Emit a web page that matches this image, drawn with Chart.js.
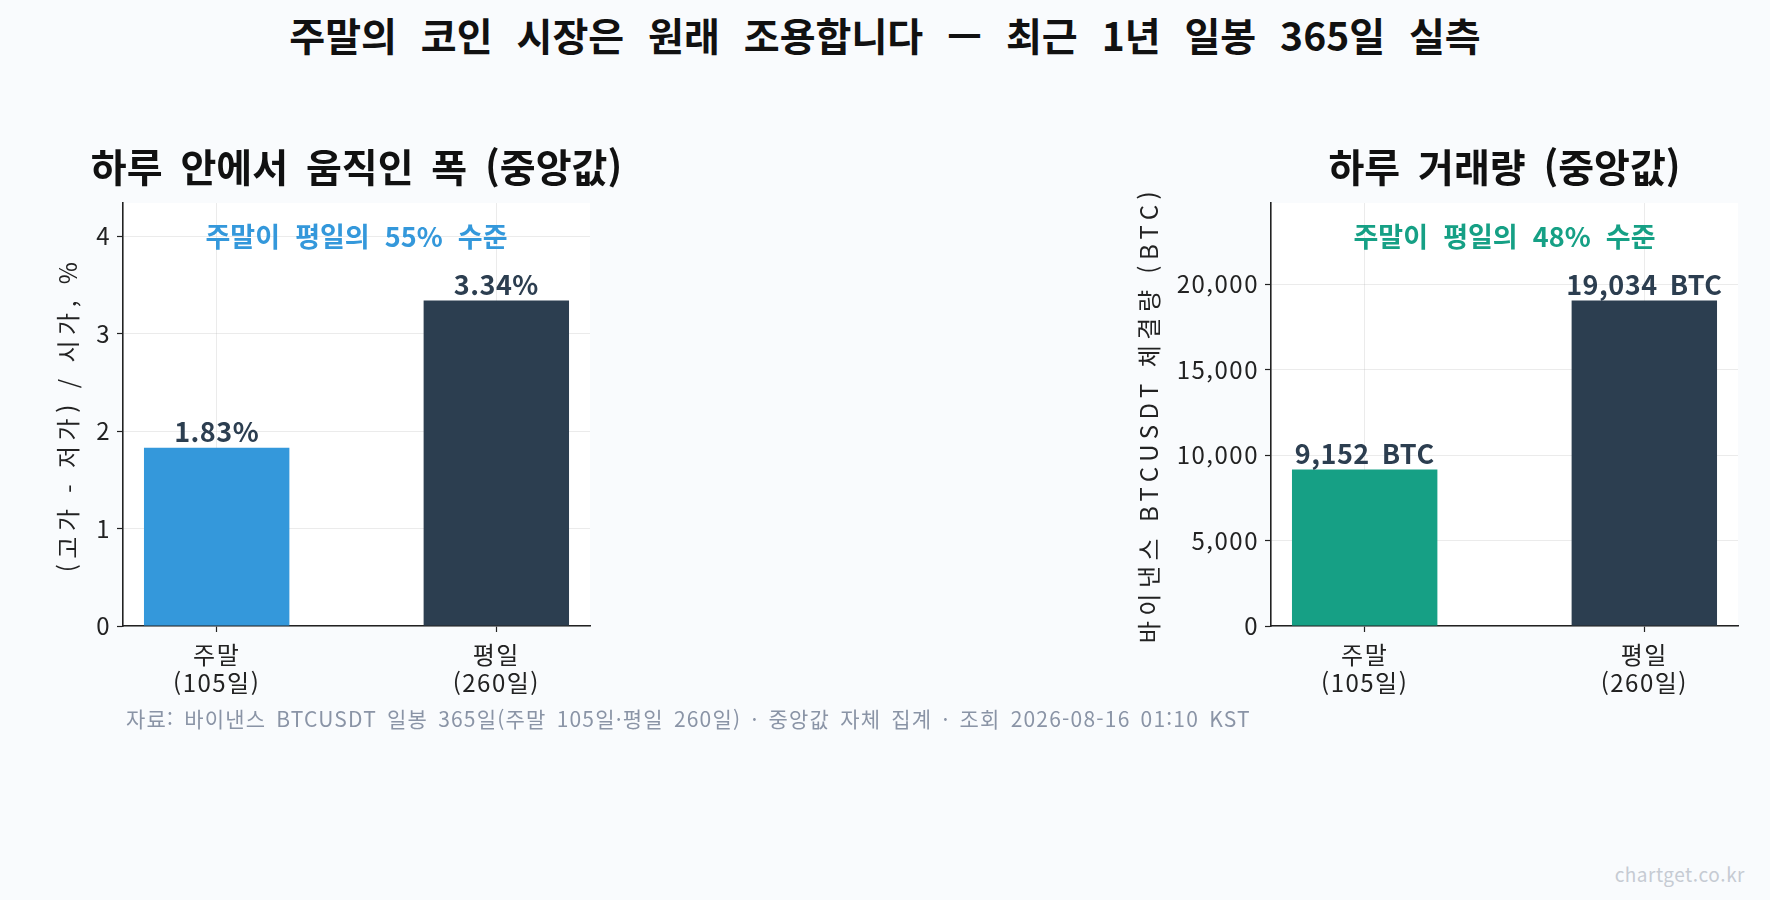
<!DOCTYPE html>
<html lang="ko">
<head>
<meta charset="utf-8">
<script src="https://cdn.jsdelivr.net/npm/chart.js@4.4.1/dist/chart.umd.min.js"></script>
<style>
  html, body { margin: 0; padding: 0; background: #f9fbfd; }
  body { width: 1770px; height: 900px; position: relative; overflow: hidden;
         font-family: "Noto Sans CJK KR", "Noto Sans", sans-serif; }
  #title { position: absolute; left: 0; width: 1770px; top: 8px; text-align: center;
           font-size: 39px; font-weight: bold; color: #111; line-height: 52px; word-spacing: 13px; }
  #footer { position: absolute; left: 126px; top: 704px; font-size: 21px; color: #8a94a6;
            line-height: 28px; letter-spacing: 1.2px; word-spacing: 3px; }
  #mark { position: absolute; right: 25px; top: 860px; font-size: 19px; color: #c6cbd3; letter-spacing: 0.5px; }
  canvas { position: absolute; top: 130px; }
  #rangeChart { left: 0; }
  #volChart { left: 1130px; }
</style>
</head>
<body>
<div id="title">주말의 코인 시장은 원래 조용합니다 — 최근 1년 일봉 365일 실측</div>
<canvas id="rangeChart" width="660" height="576"></canvas>
<canvas id="volChart" width="630" height="576"></canvas>
<div id="footer">자료: 바이낸스 BTCUSDT 일봉 365일(주말 105일·평일 260일) · 중앙값 자체 집계 · 조회 2026-08-16 01:10 KST</div>
<div id="mark">chartget.co.kr</div>

<script>
// values
const categories = [["주말", "(105일)"], ["평일", "(260일)"]];
const rangeMedian = [1.83, 3.34];      // (high - low) / open, %
const volumeMedian = [9152, 19034];    // BTCUSDT volume, BTC
const rangeNote = "주말이 평일의 55% 수준";
const volumeNote = "주말이 평일의 48% 수준";

const FONT = '"Noto Sans CJK KR", "Noto Sans", sans-serif';
Chart.defaults.font.family = FONT;
Chart.defaults.color = "#222";

function points(values) {
  return values.map((v, i) => ({ x: i, y: v }));
}

// white plot area, panel title, labels over bars, note text, rotated y title
const decor = {
  id: "decor",
  beforeDraw(chart) {
    const { ctx, chartArea: a } = chart;
    ctx.letterSpacing = "1.5px";
    ctx.save();
    ctx.fillStyle = "#ffffff";
    ctx.fillRect(a.left, a.top, a.right - a.left, a.bottom - a.top);
    ctx.restore();
  },
  afterDraw(chart, args, opts) {
    const { ctx, chartArea: a } = chart;
    const meta = chart.getDatasetMeta(0);
    const cx = (a.left + a.right) / 2;
    ctx.save();
    ctx.textAlign = "center";

    ctx.font = "bold 39px " + FONT;
    ctx.letterSpacing = "0px";
    ctx.wordSpacing = "9px";
    ctx.fillStyle = "#111";
    ctx.textBaseline = "middle";
    ctx.fillText(opts.title, cx, a.top - 36);

    ctx.font = "bold 27px " + FONT;
    ctx.letterSpacing = "0.5px";
    ctx.wordSpacing = "4px";
    ctx.fillStyle = "#2c3e50";
    ctx.textBaseline = "bottom";
    meta.data.forEach((bar, i) => {
      ctx.fillText(opts.fmt(chart.data.datasets[0].data[i].y), bar.x, bar.y - 2);
    });

    ctx.font = "bold 27px " + FONT;
    ctx.letterSpacing = "0px";
    ctx.wordSpacing = "9px";
    ctx.fillStyle = opts.noteColor;
    ctx.textBaseline = "middle";
    ctx.fillText(opts.note, cx, a.top + (a.bottom - a.top) * 0.08);

    ctx.translate(opts.yTitleX, (a.top + a.bottom) / 2);
    ctx.rotate(-Math.PI / 2);
    ctx.font = "24px " + FONT;
    ctx.fillStyle = "#222";
    ctx.letterSpacing = "5.5px";
    ctx.wordSpacing = "0px";
    ctx.fillText(opts.yTitle, 0, 0);
    ctx.restore();
  }
};

function makeChart(id, values, opts) {
  const gridColor = "rgba(176,176,176,0.25)";
  const top = Math.max(...values) * 1.3;
  return new Chart(document.getElementById(id), {
    type: "bar",
    data: {
      datasets: [{
        data: points(values),
        backgroundColor: [opts.color, "#2c3e50"],
        categoryPercentage: 1,
        barPercentage: 0.52
      }]
    },
    options: {
      responsive: false,
      animation: false,
      devicePixelRatio: 1,
      layout: { padding: { top: 73, right: opts.padRight, bottom: 0, left: 0 } },
      plugins: {
        legend: { display: false },
        tooltip: { enabled: false },
        decor: {
          title: opts.title,
          fmt: opts.fmt,
          note: opts.note,
          noteColor: opts.color,
          yTitle: opts.yTitle,
          yTitleX: opts.yTitleX
        }
      },
      scales: {
        x: {
          type: "linear",
          min: -0.335,
          max: 1.335,
          offset: false,
          z: 1,
          afterBuildTicks: (axis) => { axis.ticks = categories.map((c, i) => ({ value: i })); },
          afterFit: (axis) => { axis.height = 80; },
          grid: { offset: false, color: gridColor, tickColor: "#222", tickLength: 6, tickWidth: 1.2 },
          border: { color: "#222", width: 1.6 },
          ticks: {
            font: { size: 24, lineHeight: 1.17 },
            padding: 9,
            maxRotation: 0,
            autoSkip: false,
            callback: (v) => categories[v]
          }
        },
        y: {
          min: 0,
          max: top,
          z: 1,
          afterBuildTicks: (axis) => {
            const t = [];
            for (let v = 0; v <= top; v += opts.step) t.push({ value: v });
            axis.ticks = t;
          },
          afterFit: (axis) => { axis.width = opts.yWidth; },
          grid: { color: gridColor, tickColor: "#222", tickLength: 6, tickWidth: 1.2 },
          border: { color: "#222", width: 1.6 },
          ticks: {
            font: { size: 24 },
            padding: 6,
            callback: (v) => v.toLocaleString("en-US")
          }
        }
      }
    },
    plugins: [decor]
  });
}

makeChart("rangeChart", rangeMedian, {
  title: "하루 안에서 움직인 폭 (중앙값)",
  yTitle: "(고가 - 저가) / 시가, %",
  note: rangeNote,
  color: "#3498db",
  step: 1,
  yWidth: 123,
  padRight: 70,
  yTitleX: 68,
  fmt: (v) => v.toFixed(2) + "%"
});

makeChart("volChart", volumeMedian, {
  title: "하루 거래량 (중앙값)",
  yTitle: "바이낸스 BTCUSDT 체결량 (BTC)",
  note: volumeNote,
  color: "#16a085",
  step: 5000,
  yWidth: 141,
  padRight: 22,
  yTitleX: 19,
  fmt: (v) => v.toLocaleString("en-US") + " BTC"
});
</script>
</body>
</html>
